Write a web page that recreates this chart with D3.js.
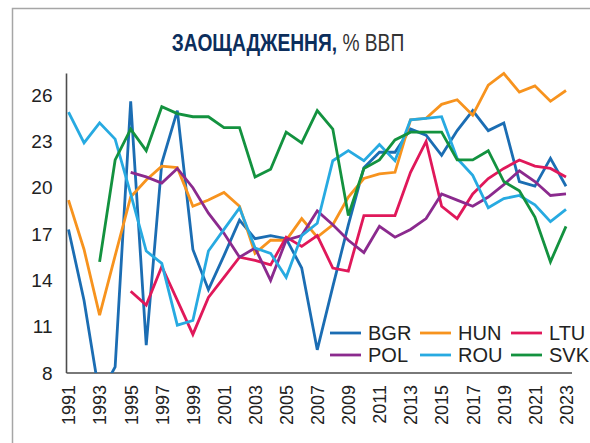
<!DOCTYPE html>
<html><head><meta charset="utf-8">
<script src="https://cdn.jsdelivr.net/npm/d3@7"></script>
<style>
html,body{margin:0;padding:0;background:#fff;}
svg{display:block;}
text{font-family:"Liberation Sans",Arial,sans-serif;}
</style></head>
<body>
<svg id="chart" width="590" height="443"></svg>
<script>
const years = [1991,1992,1993,1994,1995,1996,1997,1998,1999,2000,2001,2002,2003,2004,2005,2006,2007,2008,2009,2010,2011,2012,2013,2014,2015,2016,2017,2018,2019,2020,2021,2022,2023];
const tickYears = [1991,1993,1995,1997,1999,2001,2003,2005,2007,2009,2011,2013,2015,2017,2019,2021,2023];
const yTicks = [8,11,14,17,20,23,26];
const seriesNames = ["BGR","HUN","LTU","POL","ROU","SVK"];
const seriesColors = ["#1b6db3","#f7931e","#e0185a","#8b2a8e","#27aae1","#13923f"];
const BGR = [17.3,12.7,6.5,8.4,25.6,9.8,21.6,25.0,16.0,13.4,15.6,17.9,16.7,16.9,16.7,14.8,9.5,13.6,17.6,21.3,22.3,22.3,23.8,23.4,22.1,23.7,25.0,23.7,24.2,20.4,20.1,21.9,20.1];
const HUN = [19.2,16.0,11.75,15.6,19.4,20.5,21.4,21.3,18.8,19.2,19.7,18.8,15.75,16.6,16.6,18.0,16.8,17.6,19.4,20.6,20.9,21.0,24.4,24.5,25.4,25.7,24.7,26.65,27.4,26.2,26.6,25.6,26.3];
const LTU = [null,null,null,null,13.3,12.4,14.9,12.7,10.5,12.9,14.2,15.5,15.3,15.0,16.8,16.2,16.9,14.8,14.6,18.2,18.2,18.2,21.0,23.0,18.8,18.0,19.6,20.6,21.25,21.8,21.4,21.25,20.7];
const POL = [null,null,null,null,21.0,20.7,20.3,21.25,20.0,18.35,17.05,15.5,16.1,14.0,16.6,16.9,18.5,17.6,16.6,15.8,17.5,16.8,17.3,18.0,19.6,19.2,18.8,19.4,20.2,21.1,20.4,19.5,19.6];
const ROU = [24.9,22.9,24.2,23.15,19.6,15.9,15.1,11.1,11.4,15.9,17.3,18.7,16.1,15.75,14.2,16.9,17.7,21.75,22.4,21.75,22.8,21.75,24.4,24.5,24.6,21.9,20.8,18.7,19.3,19.5,18.9,17.8,18.6];
const SVK = [null,null,15.2,21.8,23.8,22.4,25.25,24.8,24.6,24.6,23.9,23.9,20.7,21.2,23.6,22.9,25.0,23.8,18.2,21.25,21.8,23.1,23.6,23.6,23.6,21.8,21.8,22.4,20.4,19.8,18.1,15.2,17.5];
const seriesValues = [BGR,HUN,LTU,POL,ROU,SVK];
const titleBold = "ЗАОЩАДЖЕННЯ,";
const titleRest = " % ВВП";

const svg = d3.select("#chart");

// frame
svg.append("path").attr("d","M12.5,443 L12.5,8.5 L590,8.5")
  .attr("fill","none").attr("stroke","#a6a6a6").attr("stroke-width",1.5);

// title (horizontally condensed)
const tg = svg.append("g").attr("transform","translate(288,51) scale(0.8,1)");
const t = tg.append("text").attr("x",0).attr("y",0).attr("text-anchor","middle")
  .style("font-size","24px");
t.append("tspan").text(titleBold).attr("font-weight","bold").attr("fill","#0c2e5c");
t.append("tspan").text(titleRest).attr("fill","#333");

const x = d3.scalePoint().domain(years).range([68.5,566]);
const y = d3.scaleLinear().domain([8,27.4]).range([373,73.5]);

// clip
svg.append("clipPath").attr("id","clip").append("rect")
  .attr("x",60).attr("y",60).attr("width",520).attr("height",y(8)-60);

// axis lines
svg.append("line").attr("x1",66.5).attr("x2",66.5).attr("y1",y(27.4)).attr("y2",y(8))
  .attr("stroke","#4d4d4d").attr("stroke-width",1.6);
svg.append("line").attr("x1",66.5).attr("x2",572).attr("y1",y(8)).attr("y2",y(8))
  .attr("stroke","#4d4d4d").attr("stroke-width",1.6);

// y axis labels
const yAxis = svg.append("g").attr("transform","translate(66.5,0)")
  .call(d3.axisLeft(y).tickValues(yTicks).tickSize(0).tickPadding(14));
yAxis.select(".domain").remove();
yAxis.selectAll("text").style("font-size","19px").attr("fill","#222")
  .style("font-family","'Liberation Sans',Arial,sans-serif");

// x axis labels
const xAxis = svg.append("g").attr("transform",`translate(0,${y(8)})`)
  .call(d3.axisBottom(x).tickValues(tickYears).tickSize(0).tickFormat(d3.format("d")));
xAxis.select(".domain").remove();
xAxis.selectAll("text").style("font-size","18px").attr("fill","#222")
  .style("font-family","'Liberation Sans',Arial,sans-serif")
  .attr("text-anchor","end").attr("transform","rotate(-90)")
  .attr("x",-12).attr("y",0).attr("dy","0.35em");

// lines
const line = d3.line().defined(d=>d.v!==null).x(d=>x(d.yr)).y(d=>y(d.v));
const plot = svg.append("g").attr("clip-path","url(#clip)");
seriesNames.forEach((name,i)=>{
  const data = years.map((yr,j)=>({yr, v: seriesValues[i][j]}));
  plot.append("path").datum(data).attr("d",line).attr("fill","none")
    .attr("stroke",seriesColors[i]).attr("stroke-width",2.8)
    .attr("stroke-linejoin","miter").attr("stroke-miterlimit",4);
});

// legend
const legX = [330,420,511];
const legY = [333,355];
const leg = svg.append("g");
seriesNames.forEach((name,i)=>{
  const cx = legX[i%3], cy = legY[Math.floor(i/3)];
  leg.append("line").attr("x1",cx).attr("x2",cx+31).attr("y1",cy).attr("y2",cy)
    .attr("stroke",seriesColors[i]).attr("stroke-width",2.8);
  leg.append("text").attr("x",cx+38).attr("y",cy).attr("dy","0.36em")
    .style("font-size","20px").attr("fill","#222").text(name);
});
</script>
</body></html>
